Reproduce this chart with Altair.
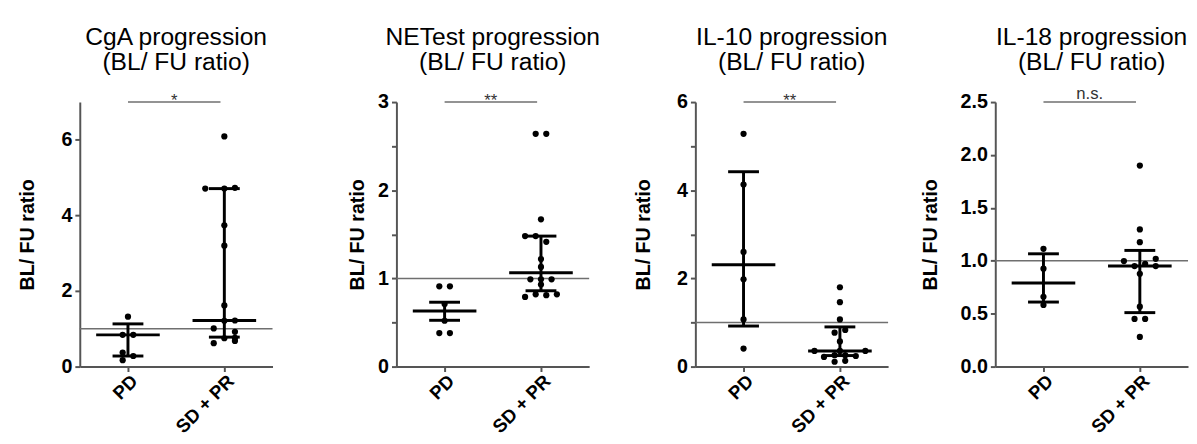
import altair as alt
import pandas as pd

FONT = "Liberation Sans"
GROUPS = ["PD", "SD + PR"]

# ---------------- data ----------------
# CgA
cga_pd = [1.32, 0.84, 0.84, 0.37, 0.28, 0.17]
cga_pd_jit = [0, -0.5, 0.5, -0.5, 0.5, -0.5]
cga_sd = [6.09, 4.71, 4.71, 4.73, 3.74, 3.20, 1.62, 1.21, 1.22, 1.01, 0.92, 0.75, 0.76, 0.62, 0.68]
cga_sd_jit = [0, -1.8, 0, 1, 0, 0, 0, 0, 1, -1, 1, 0, 1, -1, 1]
cga_median = [0.84, 1.22]
cga_low = [0.28, 0.78]
cga_high = [1.13, 4.71]

# NETest
net_pd = [0.91, 0.91, 0.71, 0.52, 0.38, 0.38]
net_pd_jit = [-0.5, 0.5, 0, 0, -0.5, 0.5]
net_sd = [2.64, 2.64, 1.67, 1.48, 1.48, 1.415, 1.22, 1.13, 0.99, 0.99, 0.99, 0.93, 0.82, 0.81, 0.82, 0.79]
net_sd_jit = [-0.5, 0.5, 0, -1.5, -0.5, 0.5, 0, 0, -1, 0, 1, 0, -0.5, 0.5, 1.5, -1.5]
net_median = [0.63, 1.065]
net_low = [0.525, 0.86]
net_high = [0.73, 1.48]

# IL-10
il10_pd = [5.28, 4.13, 2.60, 1.98, 1.07, 0.41]
il10_pd_jit = [0, 0, 0, 0, 0, 0]
il10_sd = [1.80, 1.46, 1.07, 0.83, 0.77, 0.57, 0.355, 0.355, 0.355, 0.22, 0.26, 0.26, 0.24, 0.11, 0.13]
il10_sd_jit = [0, 0, 0, 0.5, -0.5, 0, -2.4, 0, 2.4, -1.5, -0.5, 0.5, 1.5, -0.5, 0.5]
il10_median = [2.31, 0.355]
il10_low = [0.92, 0.25]
il10_high = [4.42, 0.90]

# IL-18
il18_pd = [1.113, 0.925, 0.66, 0.582]
il18_pd_jit = [0, 0, 0, 0]
il18_sd = [1.90, 1.296, 1.176, 0.997, 1.019, 0.95, 0.97, 0.95, 0.877, 0.566, 0.45, 0.45, 0.28]
il18_sd_jit = [0, 0, 0, -1.5, 1.5, -0.5, 0.5, 1.5, 0, 0, -0.5, 0.5, 0]
il18_median = [0.79, 0.95]
il18_low = [0.61, 0.51]
il18_high = [1.066, 1.098]

titles = [
    ["CgA progression", "(BL/ FU ratio)"],
    ["NETest progression", "(BL/ FU ratio)"],
    ["IL-10 progression", "(BL/ FU ratio)"],
    ["IL-18 progression", "(BL/ FU ratio)"],
]
significance = ["*", "**", "**", "n.s."]
y_max = [7, 3, 6, 2.5]
y_major = [2, 1, 2, 0.5]
y_minor = [1, 0.5, 1, 0.25]
y_format = ["d", "d", "d", ".1f"]
reference_value = 1.0

W, H = 196, 269
JIT = 0.11
AXIS_COLOR = "#555555"


def panel(title, pd_vals, pd_jit, sd_vals, sd_jit, med, low, high, ymax,
          major, minor, fmt, sig, title_pad, sig_dy, title_offset, ref_ext):
    pts = pd.DataFrame({
        "g": [0] * len(pd_vals) + [1] * len(sd_vals),
        "j": list(pd_jit) + list(sd_jit),
        "v": list(pd_vals) + list(sd_vals),
    })
    summ = pd.DataFrame({"g": [0, 1], "med": med, "low": low, "high": high})
    n = int(round(ymax / minor))
    tick_vals = [round(i * minor, 4) for i in range(n + 1)]

    xscale = alt.Scale(domain=[-0.5, 1.5], nice=False, zero=False)
    yscale = alt.Scale(domain=[0, ymax], nice=False)
    xaxis = alt.Axis(
        values=[0, 1], labelExpr="datum.value == 0 ? 'PD' : 'SD + PR'",
        title=None, grid=False, labelAngle=-45, labelFont=FONT, labelFontSize=19,
        labelFontWeight="bold", labelColor="black", domainColor=AXIS_COLOR,
        domainWidth=2, tickColor=AXIS_COLOR, tickWidth=2, tickSize=5, labelPadding=0,
    )
    yaxis = alt.Axis(
        values=tick_vals,
        labelExpr=f"abs(datum.value/{major} - round(datum.value/{major})) < 0.001 ? format(datum.value, '{fmt}') : ''",
        title="BL/ FU ratio", titleFont=FONT, titleFontSize=20, titleFontWeight="bold",
        titleColor="black", titlePadding=title_pad, grid=False, labelFont=FONT,
        labelFontSize=20, labelFontWeight="bold", labelColor="black",
        domainColor=AXIS_COLOR, domainWidth=2, tickColor=AXIS_COLOR, tickWidth=2,
        tickSize=5, labelPadding=3,
    )

    base_pts = alt.Chart(pts).transform_calculate(xp=f"datum.g + datum.j * {JIT}")
    points = base_pts.mark_circle(size=40, color="black", opacity=1).encode(
        x=alt.X("xp:Q", scale=xscale, axis=xaxis),
        y=alt.Y("v:Q", scale=yscale, axis=yaxis),
    )
    sbase = alt.Chart(summ).transform_calculate(
        m1="datum.g - 0.33", m2="datum.g + 0.33",
        c1="datum.g - 0.16", c2="datum.g + 0.16",
    )
    med_rule = sbase.mark_rule(color="black", strokeWidth=3).encode(
        x=alt.X("m1:Q", scale=xscale), x2="m2:Q", y=alt.Y("med:Q", scale=yscale))
    low_rule = sbase.mark_rule(color="black", strokeWidth=3).encode(
        x=alt.X("c1:Q", scale=xscale), x2="c2:Q", y=alt.Y("low:Q", scale=yscale))
    high_rule = sbase.mark_rule(color="black", strokeWidth=3).encode(
        x=alt.X("c1:Q", scale=xscale), x2="c2:Q", y=alt.Y("high:Q", scale=yscale))
    vert = sbase.mark_rule(color="black", strokeWidth=3).encode(
        x=alt.X("g:Q", scale=xscale), y=alt.Y("low:Q", scale=yscale), y2="high:Q")

    ref = alt.Chart(pd.DataFrame({"r": [reference_value]})).mark_rule(
        color="#6f6f6f", strokeWidth=1.5).encode(
        y=alt.Y("r:Q", scale=yscale), x=alt.value(0), x2=alt.value(W + ref_ext))

    sig_df = pd.DataFrame({"x1": [0.0], "x2": [0.96], "y": [ymax], "xm": [0.48], "t": [sig]})
    sig_bar = alt.Chart(sig_df).mark_rule(color="#6f6f6f", strokeWidth=1.5).encode(
        x=alt.X("x1:Q", scale=xscale), x2="x2:Q", y=alt.Y("y:Q", scale=yscale))
    sig_txt = alt.Chart(sig_df).mark_text(
        font=FONT, fontSize=17, color="#333333", baseline="alphabetic", dy=sig_dy).encode(
        x=alt.X("xm:Q", scale=xscale), y=alt.Y("y:Q", scale=yscale), text="t:N")

    return alt.layer(ref, vert, med_rule, low_rule, high_rule, points, sig_bar, sig_txt).properties(
        width=W, height=H,
        title=alt.TitleParams(title, font=FONT, fontSize=25, fontWeight="normal",
                              color="black", anchor="middle", lineHeight=25,
                              offset=title_offset),
    )


p1 = panel(titles[0], cga_pd, cga_pd_jit, cga_sd, cga_sd_jit, cga_median, cga_low, cga_high,
           y_max[0], y_major[0], y_minor[0], y_format[0], significance[0], 24, 4, 18, 0)
p2 = panel(titles[1], net_pd, net_pd_jit, net_sd, net_sd_jit, net_median, net_low, net_high,
           y_max[1], y_major[1], y_minor[1], y_format[1], significance[1], 10, 4, 18, 0)
p3 = panel(titles[2], il10_pd, il10_pd_jit, il10_sd, il10_sd_jit, il10_median, il10_low, il10_high,
           y_max[2], y_major[2], y_minor[2], y_format[2], significance[2], 24, 4, 18, 0)
p4 = panel(titles[3], il18_pd, il18_pd_jit, il18_sd, il18_sd_jit, il18_median, il18_low, il18_high,
           y_max[3], y_major[3], y_minor[3], y_format[3], significance[3], 20, -3, 11, 0)

right = alt.hconcat(p2, p3, p4, spacing=32)
chart = alt.hconcat(p1, right, spacing=75).configure_view(stroke=None).properties(
    background="white",
    padding={"left": 9, "top": 14, "right": 0, "bottom": 0},
)

chart.save("out.html", embed_options={"renderer": "svg", "actions": False})
